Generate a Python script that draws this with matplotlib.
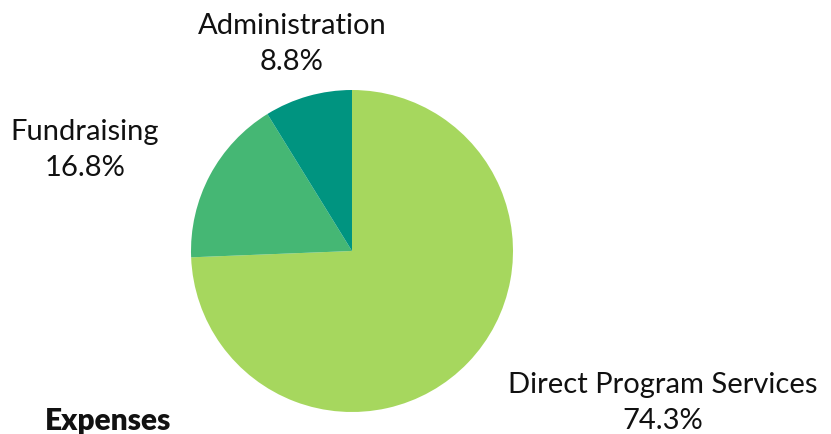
import matplotlib
matplotlib.use("Agg")
import matplotlib.pyplot as plt

categories = ["Direct Program Services", "Fundraising", "Administration"]
values = [74.3, 16.8, 8.8]
colors = ["#a6d75e", "#45b774", "#009480"]
title = "Expenses"

plt.rcParams['font.family'] = ['Lato', 'DejaVu Sans']

W, H = 831, 434
fig = plt.figure(figsize=(W / 100, H / 100), dpi=100)
cx, cy, r = 352, 251, 161
ax = fig.add_axes([(cx - r) / W, (H - cy - r) / H, 2 * r / W, 2 * r / H])
ax.pie(values, colors=colors, startangle=90, counterclock=False,
       wedgeprops=dict(linewidth=0))
ax.set_xlim(-1, 1)
ax.set_ylim(-1, 1)
ax.set_aspect('equal')

label_pos = {
    "Direct Program Services": (663, 403),
    "Fundraising": (85, 150),
    "Administration": (292, 44),
}
for cat, v in zip(categories, values):
    x, y = label_pos[cat]
    fig.text(x / W, 1 - y / H, f"{cat}\n{v:.1f}%", ha='center', va='center',
             fontsize=21, color='#111111', linespacing=1.45)

fig.text(45 / W, 1 - 421 / H, title, ha='left', va='center', fontsize=21.5,
         fontweight='heavy', color='#111111')

fig.savefig("out.png", dpi=100, facecolor='white')
